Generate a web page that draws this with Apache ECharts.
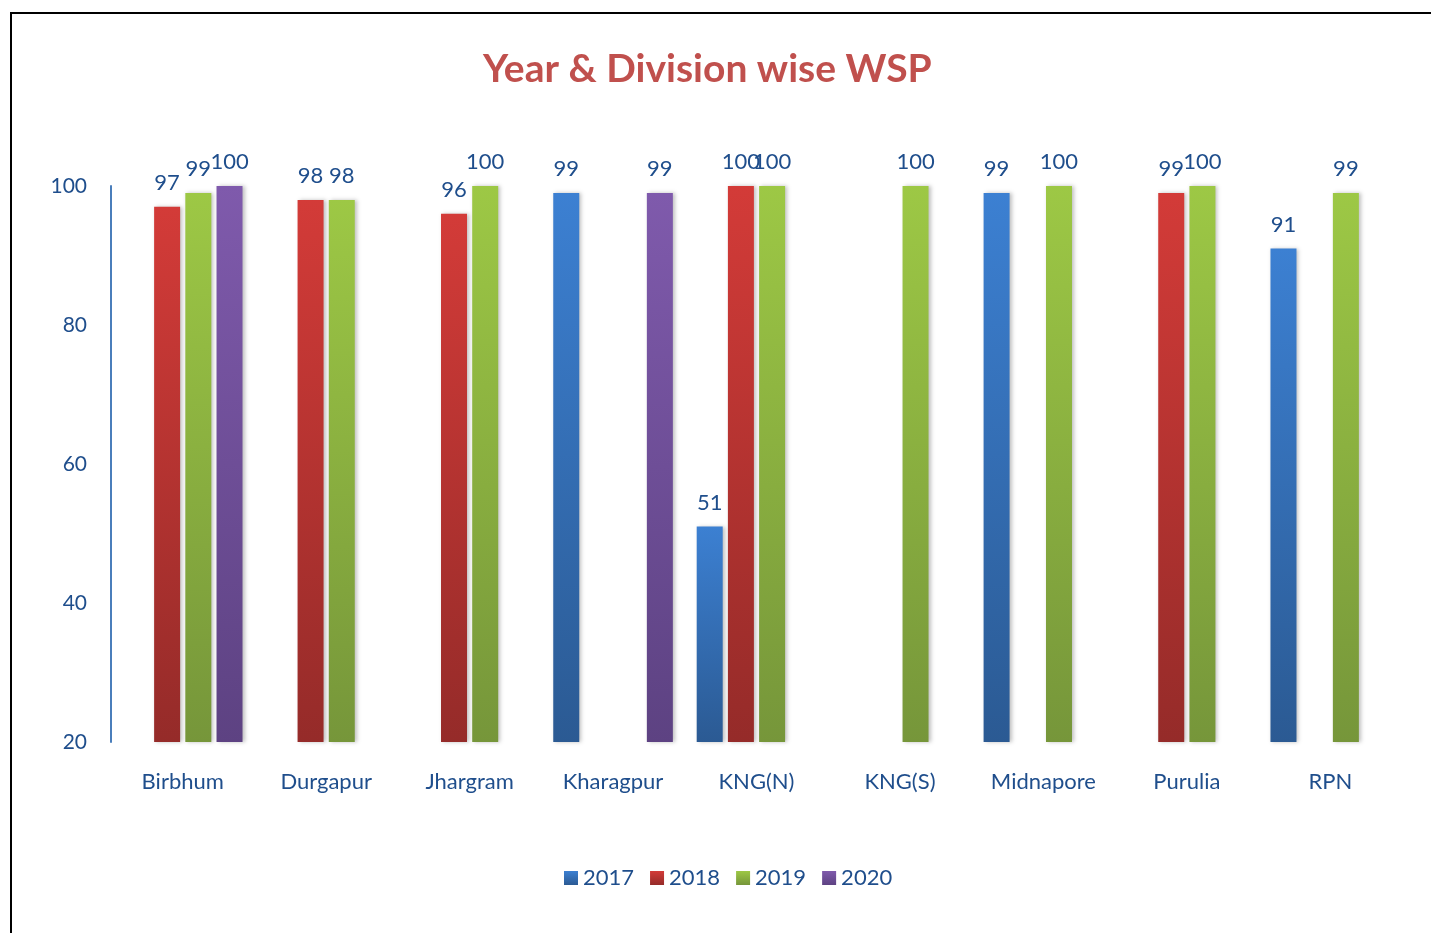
<!DOCTYPE html>
<html>
<head>
<meta charset="utf-8">
<script src="https://cdn.jsdelivr.net/npm/echarts@6/dist/echarts.min.js"></script>
<style>
  html, body { margin: 0; padding: 0; background: #fff; overflow: hidden; }
  #frame { position: absolute; left: 10px; top: 12px; width: 1440px; height: 940px; border-left: 2px solid #000; border-top: 2px solid #000; }
  #main { position: absolute; left: 0; top: 0; width: 1431px; height: 933px; }
</style>
</head>
<body>
<div id="frame"></div>
<div id="main"></div>
<script>
// divisions and WSP values per year (null = no bar)
var divisions = ['Birbhum', 'Durgapur', 'Jhargram', 'Kharagpur', 'KNG(N)', 'KNG(S)', 'Midnapore', 'Purulia', 'RPN'];
var years = ['2017', '2018', '2019', '2020'];
var wsp2017 = [null, null, null, 99, 51, null, 99, null, 91];
var wsp2018 = [97, 98, 96, null, 100, null, null, 99, null];
var wsp2019 = [99, 98, 100, null, 100, 100, 100, 100, 99];
var wsp2020 = [100, null, null, 99, null, null, null, null, null];

var yTicks = [20, 40, 60, 80, 100];

var textColor = '#1f4e8c';
var font = 'Lato';

function grad(top, bottom) {
    return new echarts.graphic.LinearGradient(0, 0, 0, 1, [
        { offset: 0, color: top },
        { offset: 1, color: bottom }
    ]);
}

var colors = [
    grad('#3c80d2', '#2b5a93'),
    grad('#d33b38', '#952b29'),
    grad('#9dc845', '#76963a'),
    grad('#7f5aac', '#5d4282')
];

var myChart = echarts.init(document.getElementById('main'));

function makeSeries(idx, values) {
    return {
        name: years[idx],
        type: 'bar',
        data: values,
        barWidth: 26,
        barGap: '20%',
        itemStyle: {
            color: colors[idx],
            shadowColor: 'rgba(0,0,0,0.25)',
            shadowBlur: 4,
            shadowOffsetX: 2
        },
        label: {
            show: true,
            position: 'top',
            distance: 13,
            color: textColor,
            fontFamily: font,
            fontSize: 22
        }
    };
}

var option = {
    backgroundColor: 'transparent',
    animation: false,
    title: {
        text: 'Year & Division wise WSP',
        left: 478,
        top: 45,
        textStyle: {
            color: '#c0504d',
            fontFamily: font,
            fontWeight: 'bold',
            fontSize: 39
        }
    },
    legend: {
        bottom: 39,
        left: 559,
        itemWidth: 14,
        itemHeight: 14,
        itemGap: 16,
        icon: 'rect',
        textStyle: { color: textColor, fontFamily: font, fontSize: 22, padding: [0, 0, 0, 0] },
        data: years
    },
    grid: {
        left: 111,
        right: 29,
        top: 186,
        bottom: 191,
        containLabel: false
    },
    xAxis: {
        type: 'category',
        data: divisions,
        axisLine: { show: false },
        axisTick: { show: false },
        axisLabel: {
            color: textColor,
            fontFamily: font,
            fontSize: 22,
            margin: 29
        }
    },
    yAxis: {
        type: 'value',
        min: yTicks[0],
        max: yTicks[yTicks.length - 1],
        interval: 20,
        splitLine: { show: false },
        axisTick: { show: false },
        axisLine: { show: true, lineStyle: { color: '#4a7ebb', width: 2 } },
        axisLabel: {
            color: textColor,
            fontFamily: font,
            fontSize: 21,
            margin: 24
        }
    },
    series: [
        makeSeries(0, wsp2017),
        makeSeries(1, wsp2018),
        makeSeries(2, wsp2019),
        makeSeries(3, wsp2020)
    ]
};

myChart.setOption(option);
</script>
</body>
</html>
